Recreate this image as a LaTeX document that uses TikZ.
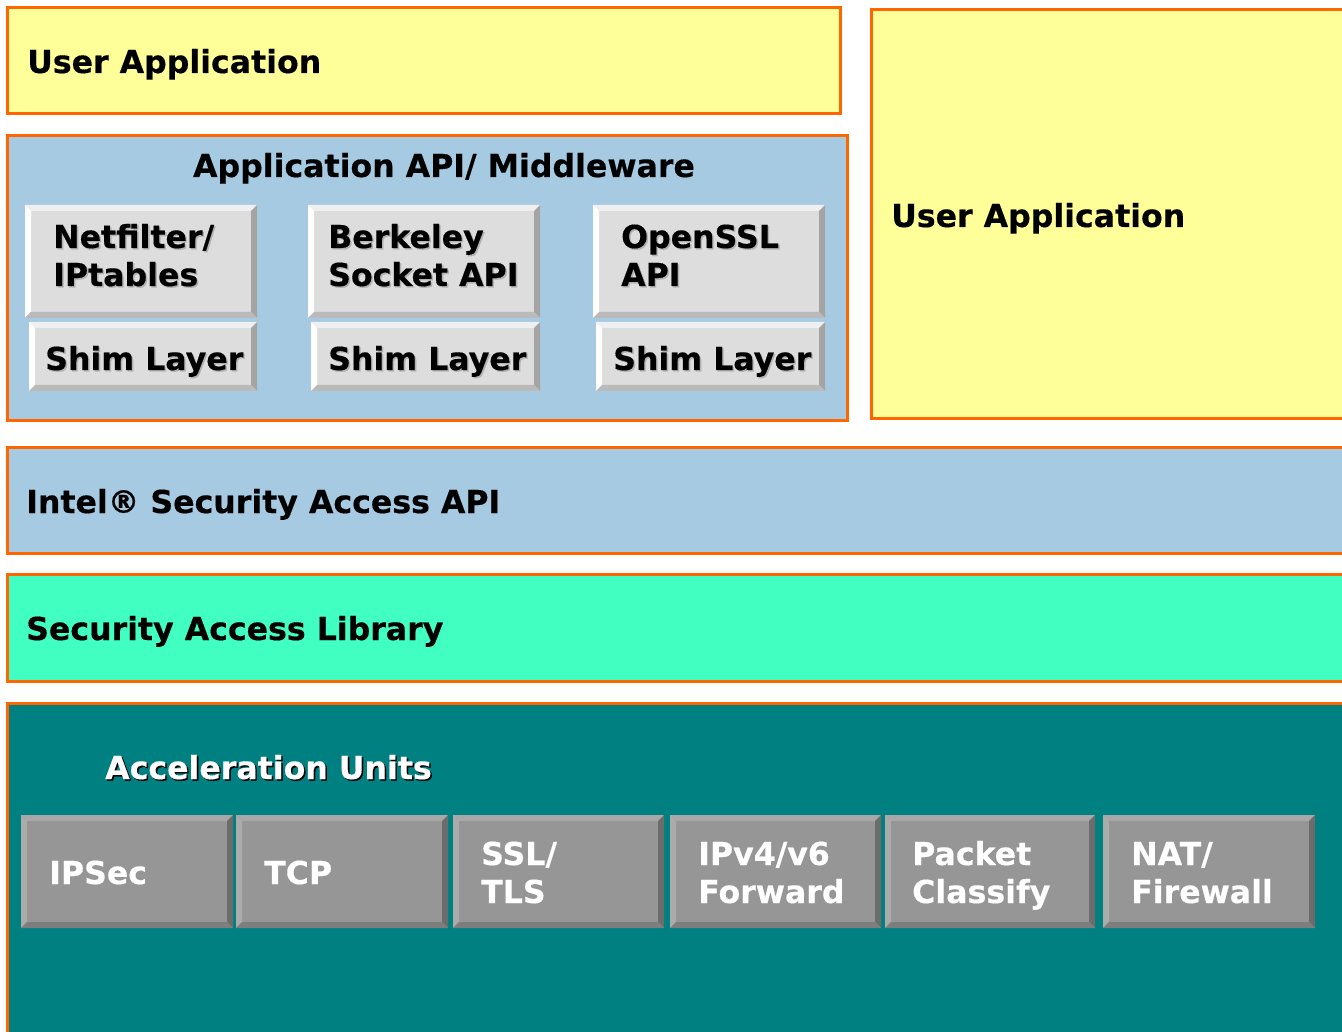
\documentclass[tikz,border=0pt]{standalone}
\usepackage{fontspec}
\setmainfont{DejaVu Sans}[BoldFeatures={FakeBold=0.4}]
\definecolor{ora}{HTML}{FF6600}
\definecolor{yel}{HTML}{FFFF99}
\definecolor{lblue}{HTML}{A6CAE2}
\definecolor{turq}{HTML}{40FFC0}
\definecolor{teal2}{HTML}{008080}
\definecolor{lgfill}{HTML}{DDDDDD}
\definecolor{lgtop}{HTML}{EFEFEF}
\definecolor{lgleft}{HTML}{FFFFFF}
\definecolor{lgright}{HTML}{A4A4A4}
\definecolor{lgbot}{HTML}{BABABA}
\definecolor{dgfill}{HTML}{969696}
\definecolor{dgtop}{HTML}{A8A8A8}
\definecolor{dgleft}{HTML}{ABABAB}
\definecolor{dgright}{HTML}{6C6C6C}
\definecolor{dgbot}{HTML}{7E7E7E}
\definecolor{shgray}{HTML}{B2B2B2}
\newcommand\bevelbox[6]{%
 \fill[#6fill] (#2,#3) rectangle (#4,#5);
 \fill[#6top] (#2,#3) -- (#4,#3) -- (#4-6,#3+6) -- (#2+6,#3+6) -- cycle;
 \fill[#6left] (#2,#3) -- (#2+6,#3+6) -- (#2+6,#5-6) -- (#2,#5) -- cycle;
 \fill[#6right] (#4,#3) -- (#4,#5) -- (#4-6,#5-6) -- (#4-6,#3+6) -- cycle;
 \fill[#6bot] (#2,#5) -- (#4,#5) -- (#4-6,#5-6) -- (#2+6,#5-6) -- cycle;
 \coordinate (#1) at (#2,#3);
}
\newcommand\shtext[6]{%
 \node[lbl, text=#6] (#1-sh) at (#2+1.5,#3+1.5) {#4};
 \node[lbl, text=#5] (#1) at (#2,#3) {#4};
}
\tikzset{
 lbl/.style={anchor=base west, inner sep=0pt, font=\bfseries\fontsize{31.6}{38}\selectfont},
 layer/.style={draw=ora, line width=3pt},
}
\begin{document}
\begin{tikzpicture}[x=1pt,y=-1pt]
\useasboundingbox (0,0) rectangle (1342,1032);
\clip (0,0) rectangle (1342,1032);
% layers
\draw[layer, fill=yel] (7,8) rectangle (840,114);
\draw[layer, fill=lblue] (7,136) rectangle (847,420);
\draw[layer, fill=yel] (871,10) rectangle (1360,418);
\draw[layer, fill=lblue] (7,447) rectangle (1360,553);
\draw[layer, fill=turq] (7,574) rectangle (1360,681);
\draw[layer, fill=teal2] (7,703) rectangle (1360,1060);
% texts of layers
\node[lbl] (ua1) at (27,73) {User Application};
\node[lbl, anchor=base] (mw) at (444,177) {Application API/ Middleware};
\node[lbl] (ua2) at (891,227) {User Application};
\node[lbl] (intel) at (26,513) {Intel® Security Access API};
\node[lbl] (sal) at (26,640) {Security Access Library};
\shtext{acc}{105}{779}{Acceleration Units}{white}{black}
% middleware boxes
\bevelbox{nf}{25}{205}{257}{318}{lg}
\bevelbox{nfs}{29}{322}{257}{391}{lg}
\bevelbox{bk}{308}{205}{540}{318}{lg}
\bevelbox{bks}{311}{322}{540}{391}{lg}
\bevelbox{os}{593}{205}{825}{318}{lg}
\bevelbox{oss}{596}{322}{825}{391}{lg}
\shtext{nf1}{53}{248}{Netfilter/}{black}{shgray}
\shtext{nf2}{53}{286}{IPtables}{black}{shgray}
\shtext{nfsh}{45}{370}{Shim Layer}{black}{shgray}
\shtext{bk1}{328}{248}{Berkeley}{black}{shgray}
\shtext{bk2}{328}{286}{Socket API}{black}{shgray}
\shtext{bksh}{328}{370}{Shim Layer}{black}{shgray}
\shtext{os1}{621}{248}{OpenSSL}{black}{shgray}
\shtext{os2}{621}{286}{API}{black}{shgray}
\shtext{ossh}{613}{370}{Shim Layer}{black}{shgray}
% acceleration boxes
\bevelbox{u1}{21}{815}{233}{928}{dg}
\bevelbox{u2}{236}{815}{448}{928}{dg}
\bevelbox{u3}{453}{815}{664}{928}{dg}
\bevelbox{u4}{670}{815}{881}{928}{dg}
\bevelbox{u5}{885}{815}{1095}{928}{dg}
\bevelbox{u6}{1103}{815}{1315}{928}{dg}
\node[lbl, text=white] (t1) at (49,884) {IPSec};
\node[lbl, text=white] (t2) at (264,884) {TCP};
\node[lbl, text=white] (t3a) at (481,865) {SSL/};
\node[lbl, text=white] (t3b) at (481,903) {TLS};
\node[lbl, text=white] (t4a) at (698,865) {IPv4/v6};
\node[lbl, text=white] (t4b) at (698,903) {Forward};
\node[lbl, text=white] (t5a) at (912,865) {Packet};
\node[lbl, text=white] (t5b) at (912,903) {Classify};
\node[lbl, text=white] (t6a) at (1131,865) {NAT/};
\node[lbl, text=white] (t6b) at (1131,903) {Firewall};
\end{tikzpicture}
\end{document}
